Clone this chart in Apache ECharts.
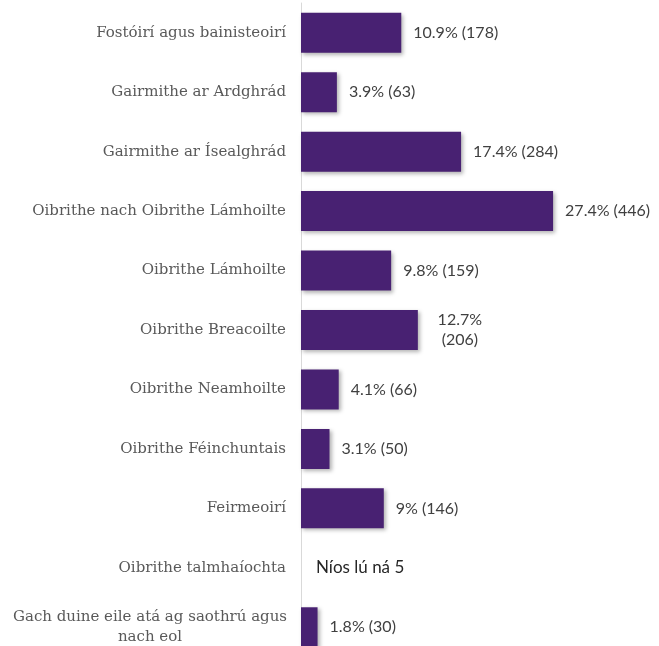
<!DOCTYPE html>
<html>
<head>
<meta charset="utf-8">
<script src="https://cdn.jsdelivr.net/npm/echarts@6/dist/echarts.min.js"></script>
<style>
  html, body { margin: 0; padding: 0; background: #fff; }
  #chart { width: 659px; height: 646px; }
</style>
</head>
<body>
<div id="chart"></div>
<script>
// catagóirí (ó bharr go bun)
const categories = [
  'Fostóirí agus bainisteoirí',
  'Gairmithe ar Ardghrád',
  'Gairmithe ar Ísealghrád',
  'Oibrithe nach Oibrithe Lámhoilte',
  'Oibrithe Lámhoilte',
  'Oibrithe Breacoilte',
  'Oibrithe Neamhoilte',
  'Oibrithe Féinchuntais',
  'Feirmeoirí',
  'Oibrithe talmhaíochta',
  'Gach duine eile atá ag saothrú agus\nnach eol'
]
const percents = [10.9, 3.9, 17.4, 27.4, 9.8, 12.7, 4.1, 3.1, 9, 0, 1.8]
const counts = [178, 63, 284, 446, 159, 206, 66, 50, 146, null, 30]
const smallNote = 'Níos lú ná 5'

const chart = echarts.init(document.getElementById('chart'))

function labelText(i) {
  if (counts[i] === null) return smallNote
  const sep = i === 5 ? '\n' : ' '
  return percents[i] + '%' + sep + '(' + counts[i] + ')'
}

const option = {
  animation: false,
  grid: {
    left: 301,
    right: 82,
    top: 3,
    bottom: -11,
    outerBoundsMode: 'none'
  },
  xAxis: {
    type: 'value',
    min: 0,
    max: 30,
    show: false
  },
  yAxis: {
    type: 'category',
    inverse: true,
    data: categories.map((c, i) => {
      // an lipéad fada: an dara líne sa lár
      if (i === categories.length - 1) {
        return { value: c, textStyle: { align: 'center', padding: [0, 272, 0, 0] } }
      }
      return c
    }),
    axisLine: { show: true, lineStyle: { color: '#d9d9d9', width: 1 } },
    axisTick: { show: false },
    axisLabel: {
      margin: 15,
      color: '#595959',
      fontFamily: 'DejaVu Serif',
      fontSize: 15,
      lineHeight: 20
    }
  },
  series: [
    {
      type: 'bar',
      barWidth: 40,
      data: percents.map((v, i) => ({
        value: v,
        label: {
          formatter: labelText(i),
          color: counts[i] === null ? '#262626' : '#404040',
          fontSize: counts[i] === null ? 17 : 16,
          distance: counts[i] === null ? 15 : 12,
          align: i === 5 ? 'center' : 'left',
          padding: i === 5 ? [0, 0, 0, 60] : 0
        }
      })),
      itemStyle: {
        color: '#482172',
        shadowColor: 'rgba(0, 0, 0, 0.3)',
        shadowBlur: 4,
        shadowOffsetX: 2,
        shadowOffsetY: 2
      },
      label: {
        show: true,
        position: 'right',
        fontFamily: 'Lato',
        fontSize: 16,
        lineHeight: 20
      }
    }
  ]
}

chart.setOption(option)
</script>
</body>
</html>
